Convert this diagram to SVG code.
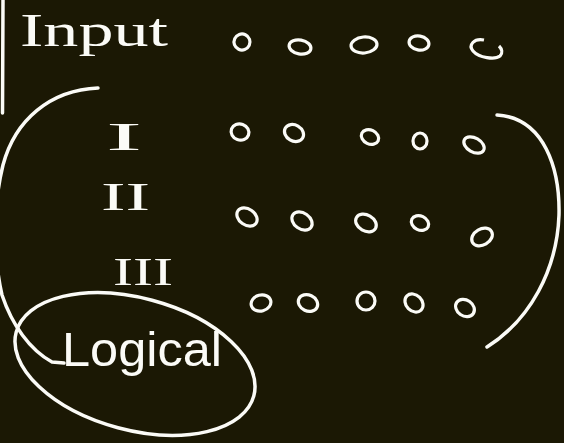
<svg xmlns="http://www.w3.org/2000/svg" width="564" height="443" viewBox="0 0 564 443">
<style>
.ink{fill:none;stroke:#fbfbf7;stroke-width:3.5;stroke-linecap:round;stroke-linejoin:round}
.dot{fill:none;stroke:#fbfbf7;stroke-width:3.2}
.lbl{fill:#fbfbf7;font-family:"Liberation Serif","DejaVu Serif",serif}
.word{fill:#fbfbf7;font-family:"Liberation Sans","DejaVu Sans",sans-serif}
</style>
<rect width="564" height="443" fill="#1b1804"/>
<g id="strokes">
<path class="ink" d="M3,0 L2.5,113"/>
<path class="ink" d="M98,88 C50,90 15,120 3,165 C-8,210 -6,260 2,295 C12,325 30,350 52,362 L64,363"/>
<path class="ink" d="M497,115 C545,118 560,170 559,215 C557,270 530,320 487,347"/>
<ellipse class="ink" cx="135" cy="364" rx="123" ry="66" transform="rotate(15 135 364)"/>
</g>
<g id="labels">
<text class="lbl" x="20" y="46" font-size="46" textLength="148" lengthAdjust="spacingAndGlyphs">Input</text>
<text class="lbl" x="106" y="150" font-size="40" textLength="36" lengthAdjust="spacingAndGlyphs">I</text>
<text class="lbl" x="101" y="210" font-size="40" textLength="49" lengthAdjust="spacingAndGlyphs">II</text>
<text class="lbl" x="113" y="285" font-size="40" textLength="60" lengthAdjust="spacingAndGlyphs">III</text>
<text class="word" x="62" y="366" font-size="48" textLength="160" lengthAdjust="spacingAndGlyphs">Logical</text>
</g>
<g id="dots">
<ellipse class="dot" cx="242" cy="42" rx="8" ry="8" transform="rotate(-20 242 42)"/>
<ellipse class="dot" cx="300" cy="47" rx="11" ry="7" transform="rotate(10 300 47)"/>
<ellipse class="dot" cx="364" cy="45" rx="13" ry="8" transform="rotate(-5 364 45)"/>
<ellipse class="dot" cx="419" cy="43" rx="10" ry="7" transform="rotate(10 419 43)"/>
<path class="dot" d="M484,40 C474,38 468,45 473,51 C479,58 495,60 500,56 C503,53 502,49 499,46"/>
<ellipse class="dot" cx="240" cy="132" rx="9" ry="8" transform="rotate(20 240 132)"/>
<ellipse class="dot" cx="294" cy="133" rx="10" ry="8" transform="rotate(30 294 133)"/>
<ellipse class="dot" cx="370" cy="137" rx="9" ry="7" transform="rotate(25 370 137)"/>
<ellipse class="dot" cx="420" cy="141" rx="7" ry="8"/>
<ellipse class="dot" cx="474" cy="145" rx="11" ry="7" transform="rotate(30 474 145)"/>
<ellipse class="dot" cx="247" cy="217" rx="11" ry="8" transform="rotate(35 247 217)"/>
<ellipse class="dot" cx="302" cy="221" rx="11" ry="8" transform="rotate(35 302 221)"/>
<ellipse class="dot" cx="366" cy="223" rx="11" ry="8" transform="rotate(30 366 223)"/>
<ellipse class="dot" cx="420" cy="223" rx="9" ry="7" transform="rotate(25 420 223)"/>
<ellipse class="dot" cx="482" cy="237" rx="11" ry="8" transform="rotate(-30 482 237)"/>
<ellipse class="dot" cx="261" cy="303" rx="10" ry="8" transform="rotate(-15 261 303)"/>
<ellipse class="dot" cx="308" cy="303" rx="10" ry="8" transform="rotate(25 308 303)"/>
<ellipse class="dot" cx="366" cy="301" rx="9" ry="9"/>
<ellipse class="dot" cx="414" cy="303" rx="10" ry="8" transform="rotate(45 414 303)"/>
<ellipse class="dot" cx="465" cy="308" rx="10" ry="8" transform="rotate(35 465 308)"/>
</g>
</svg>
